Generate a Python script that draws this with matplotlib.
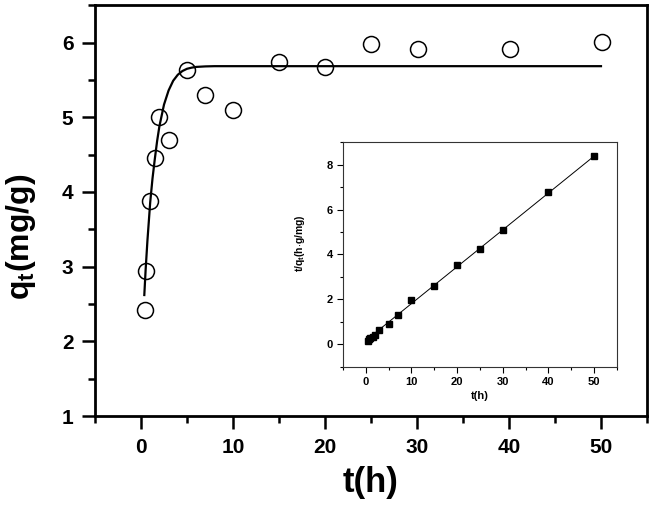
import matplotlib
matplotlib.use('Agg')
import matplotlib.pyplot as plt
from matplotlib.ticker import MultipleLocator

plt.rcParams['font.family'] = ['Liberation Sans', 'DejaVu Sans']
plt.rcParams['font.weight'] = 'bold'
plt.rcParams['mathtext.fontset'] = 'custom'
plt.rcParams['mathtext.rm'] = 'Liberation Sans:bold'
plt.rcParams['mathtext.bf'] = 'Liberation Sans:bold'
plt.rcParams['mathtext.it'] = 'Liberation Sans:bold'

# Main plot: measured q_t vs time
t_data = [0.45, 0.55, 1.0, 1.5, 2.0, 3.0, 5.0, 7.0, 10.0, 15.0, 20.0, 25.0, 30.1, 40.1, 50.1]
q_data = [2.42, 2.94, 3.88, 4.45, 5.00, 4.69, 5.64, 5.30, 5.10, 5.74, 5.67, 5.98, 5.91, 5.92, 6.01]

# Fitted curve
t_fit = [0.36, 0.5, 0.7, 1.0, 1.25, 1.5, 1.75, 2.0, 2.5, 3.0, 3.5, 4.0, 4.5, 5.0,
         5.5, 6.0, 7.0, 8.0, 10.0, 20.0, 30.0, 40.0, 50.0]
q_fit = [2.62, 2.95, 3.35, 3.86, 4.18, 4.44, 4.68, 4.88, 5.17, 5.36, 5.49, 5.57, 5.62, 5.65,
         5.665, 5.675, 5.682, 5.685, 5.685, 5.685, 5.685, 5.685, 5.685]

# Inset: t/q_t vs t
t_in = [0.4, 0.6, 1.0, 1.5, 2.0, 3.0, 5.0, 7.0, 10.0, 15.0, 20.0, 25.0, 30.0, 40.0, 50.0]
tq_in = [0.17, 0.22, 0.27, 0.35, 0.42, 0.65, 0.90, 1.33, 1.99, 2.62, 3.55, 4.23, 5.10, 6.80, 8.37]
t_line = [0.4, 50.0]
tq_line = [0.24, 8.37]

fig = plt.figure(figsize=(6.52, 5.11), dpi=100)

# Main axes
ax = fig.add_axes([0.1457, 0.1859, 0.8466, 0.8037])
ax.plot(t_fit, q_fit, color='black', linewidth=1.6, zorder=2)
ax.plot(t_data, q_data, linestyle='none', marker='o', markersize=11.5,
        markerfacecolor='none', markeredgecolor='black', markeredgewidth=1.1, zorder=3)
ax.set_xlim(-5, 55)
ax.set_ylim(1, 6.5)
ax.xaxis.set_major_locator(MultipleLocator(10))
ax.xaxis.set_minor_locator(MultipleLocator(5))
ax.yaxis.set_major_locator(MultipleLocator(1))
ax.yaxis.set_minor_locator(MultipleLocator(0.5))
for s in ax.spines.values():
    s.set_linewidth(2.0)
ax.tick_params(which='major', direction='out', length=9.5, width=1.8, labelsize=15, pad=6)
ax.tick_params(which='minor', direction='out', length=5, width=1.8)
ax.tick_params(axis='x', which='both', top=False)
ax.tick_params(axis='y', which='both', right=False)
for lab in ax.get_xticklabels() + ax.get_yticklabels():
    lab.set_fontweight('bold')
ax.set_xlabel('t(h)', fontsize=25, fontweight='bold', labelpad=7)
ax.set_ylabel(r'q$_{\mathbf{t}}$(mg/g)', fontsize=23, fontweight='bold')
ax.yaxis.set_label_coords(-0.103, 0.436)

# Inset axes
ins = fig.add_axes([0.526, 0.282, 0.420, 0.440])
ins.plot(t_line, tq_line, color='black', linewidth=0.7, zorder=2)
ins.plot(t_in, tq_in, linestyle='none', marker='s', markersize=5,
         color='black', zorder=3)
ins.set_xlim(-5, 55)
ins.set_ylim(-1, 9)
ins.xaxis.set_major_locator(MultipleLocator(10))
ins.xaxis.set_minor_locator(MultipleLocator(5))
ins.yaxis.set_major_locator(MultipleLocator(2))
ins.yaxis.set_minor_locator(MultipleLocator(1))
for s in ins.spines.values():
    s.set_linewidth(0.8)
    s.set_color('#333333')
ins.tick_params(which='major', direction='out', length=4, width=0.8, labelsize=8, pad=3)
ins.tick_params(which='minor', direction='out', length=2.5, width=0.8)
ins.tick_params(axis='x', which='both', top=False)
ins.tick_params(axis='y', which='both', right=False)
for lab in ins.get_xticklabels() + ins.get_yticklabels():
    lab.set_fontweight('bold')
ins.set_xlabel('t(h)', fontsize=8, fontweight='bold', labelpad=3)
ins.set_ylabel(r't/q$_{\mathbf{t}}$(h$\cdot$g/mg)', fontsize=7.5, fontweight='bold')
ins.yaxis.set_label_coords(-0.131, 0.55)

fig.savefig('out.png', dpi=100)
